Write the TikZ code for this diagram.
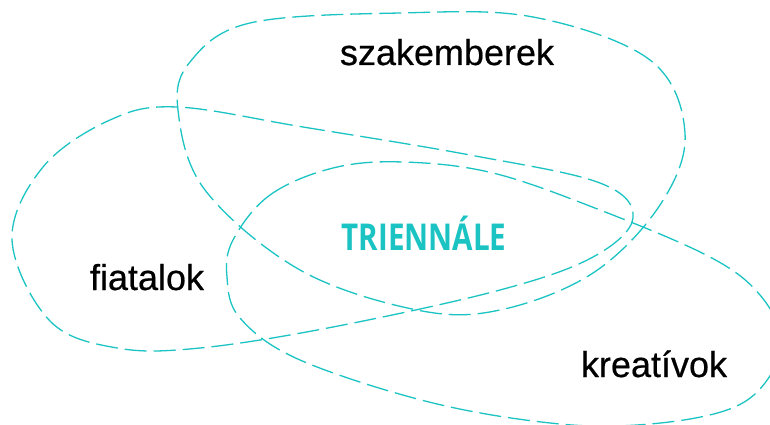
\documentclass[tikz,border=0pt]{standalone}
\usepackage{fontspec}
\setmainfont{Liberation Sans}
\newfontfamily\lblfont{Liberation Sans}[FakeBold=0.5]
\newfontfamily\trifont{Open Sans}
\definecolor{teal1}{HTML}{1CC3C3}
\tikzset{
  blob/.style={draw=teal1, line width=1.3pt, dash pattern=on 22pt off 7pt, smooth cycle, tension=0.6},
  lbl/.style={anchor=base, font=\lblfont\fontsize{36}{40}\selectfont, text=black, inner sep=0pt},
  tri/.style={anchor=base, font=\trifont\bfseries\fontsize{37}{40}\selectfont, text=teal1, inner sep=0pt}
}
\begin{document}
\begin{tikzpicture}[x=1pt, y=-1pt]
\useasboundingbox (0,0) rectangle (770,425);
\clip (0,0) rectangle (770,425);
% szakemberek blob
\draw[blob] plot coordinates {(178,110) (190,62) (250,23) (400,13) (533,17) (650,60) (685,133) (660,205) (593,273) (500,310) (417,310) (300,270) (205,190)};
% fiatalok blob
\draw[blob] plot coordinates {(177,107) (303,127) (470,155) (600,183) (633,218) (593,257) (500,290) (333,327) (200,348) (117,348) (50,321) (12,240) (43,167) (110,120)};
% kreativok blob
\draw[blob] plot coordinates {(233,240) (270,195) (333,168) (403,162) (493,173) (600,210) (710,257) (760,295) (781,340) (765,383) (727,410) (650,424) (560,424) (433,403) (300,360) (240,318) (227,277)};
\node[lbl] (szak) at (447,65) {szakemberek};
\node[lbl] (fiat) at (147,290) {fiatalok};
\node[lbl] (krea) at (654,377) {kreatívok};
\node[tri] (trien) at (424,250) {\scalebox{0.8}[1]{TRIENNÁLE}};
\end{tikzpicture}
\end{document}
